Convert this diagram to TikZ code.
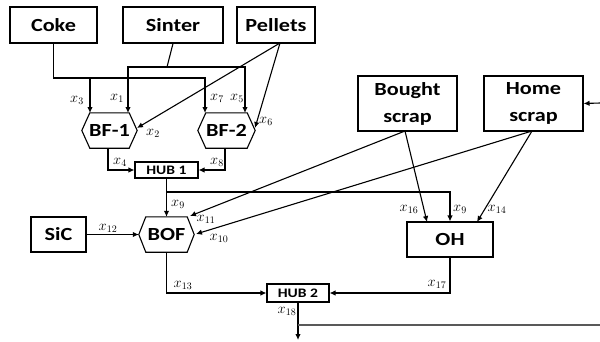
\documentclass[tikz,border=0pt]{standalone}
\usepackage{fontspec}
\newfontfamily\bx{Carlito}[FakeStretch=1.2]
\usetikzlibrary{arrows.meta,calc}
\begin{document}
\begin{tikzpicture}[x=1pt,y=-1pt,
  ln/.style={line width=1.1pt},
  arr/.style={ln,-{Latex[length=6pt,width=5.5pt]}},
  box/.style={draw,line width=1.1pt,font=\bx\bfseries\fontsize{18.5}{27}\selectfont,align=center,inner sep=0pt},
  hub/.style={draw,line width=1.1pt,font=\bx\bfseries\fontsize{13}{13}\selectfont,inner sep=0pt},
  hexn/.style={draw=none,font=\bx\bfseries\fontsize{18.5}{18.5}\selectfont,inner sep=0pt},
  lab/.style={font=\fontsize{14}{14}\selectfont,inner sep=0pt}]
\useasboundingbox (0,0) rectangle (600,341);
\newcommand\hexa[2]{\draw[ln] (#1.west) -- ([xshift=#2]#1.north west) -- ([xshift=-#2]#1.north east) -- (#1.east) -- ([xshift=-#2]#1.south east) -- ([xshift=#2]#1.south west) -- cycle;}
% boxes
\node[box,minimum width=87,minimum height=36] (coke) at (53.5,25) {Coke};
\node[box,minimum width=100,minimum height=36] (sinter) at (173,25) {Sinter};
\node[box,minimum width=78,minimum height=36] (pellets) at (276,25) {Pellets};
\node[box,minimum width=99,minimum height=55] (bought) at (407.5,103.5) {Bought\\scrap};
\node[box,minimum width=99,minimum height=55] (home) at (533.5,103.5) {Home\\scrap};
\node[box,minimum width=55,minimum height=35] (sic) at (58.5,234.5) {SiC};
\node[box,minimum width=86,minimum height=35] (oh) at (450,239.5) {OH};
\node[hub,minimum width=63,minimum height=16] (hub1) at (166.5,170) {HUB 1};
\node[hub,minimum width=62,minimum height=18] (hub2) at (298,293) {HUB 2};
% hexagons
\node[hexn,minimum width=55,minimum height=35] (bf1) at (109.5,130.5) {BF-1};
\node[hexn,minimum width=57,minimum height=35] (bf2) at (226.5,130.5) {BF-2};
\node[hexn,minimum width=55,minimum height=35] (bof) at (166.5,234.5) {BOF};
\hexa{bf1}{8}
\hexa{bf2}{8}
\hexa{bof}{7}
% coordinates
\coordinate (cokebus) at (205,78);
\coordinate (cokej) at (90,78);
\coordinate (bf1a) at (90,113);
\coordinate (bf2a) at (205,113);
\coordinate (sinj) at (167,67);
\coordinate (sinl) at (128,67);
\coordinate (sinr) at (245,67);
\coordinate (bf1b) at (128,113);
\coordinate (bf2b) at (245,113);
\coordinate (pelo) at (280,43);
\coordinate (bf1c) at (137,128);
\coordinate (bf2c) at (255,128);
\coordinate (bf1o) at (108,148);
\coordinate (bf2o) at (225,148);
\coordinate (h1j) at (167,192);
\coordinate (ohc) at (450,192);
\coordinate (bso) at (405,131);
\coordinate (hso) at (532,131);
\coordinate (ohb) at (427,222);
\coordinate (ohh) at (477,222);
\coordinate (bofb) at (190,216);
\coordinate (bofh) at (196,234);
\coordinate (h2j) at (298,325);
\coordinate (outr) at (600,325);
\coordinate (outd) at (298,340);
\coordinate (inr) at (600,103);
% connectors
\draw[arr] (coke.south) |- (cokebus) -- (bf2a);
\draw[arr] (cokej) -- (bf1a);
\draw[ln] (sinter.south) -- (sinj);
\draw[arr] (sinj) -- (sinl) -- (bf1b);
\draw[arr] (sinj) -- (sinr) -- (bf2b);
\draw[arr] (pelo) -- (bf1c);
\draw[arr] (pelo) -- (bf2c);
\draw[arr] (bf1o) |- (hub1.west);
\draw[arr] (bf2o) |- (hub1.east);
\draw[arr] (hub1.south) -- (bof.north);
\draw[arr] (h1j) -- (ohc) -- (oh.north);
\draw[arr] (sic.east) -- (bof.west);
\draw[arr] (bso) -- (ohb);
\draw[arr] (bso) -- (bofb);
\draw[arr] (hso) -- (ohh);
\draw[arr] (hso) -- (bofh);
\draw[arr] (bof.south) |- (hub2.west);
\draw[arr] (oh.south) |- (hub2.east);
\draw[arr] (hub2.south) -- (outd);
\draw[line width=2pt,gray!70!black] (h2j) -- (outr);
\draw[arr] (inr) -- (home.east);
% labels
\node[lab] at (77,100) {$x_{3}$};
\node[lab] at (117,98) {$x_{1}$};
\node[lab] at (217,98) {$x_{7}$};
\node[lab] at (237,98) {$x_{5}$};
\node[lab] at (266,121) {$x_{6}$};
\node[lab] at (153,133) {$x_{2}$};
\node[lab] at (120,162) {$x_{4}$};
\node[lab] at (217,162) {$x_{8}$};
\node[lab] at (178,204) {$x_{9}$};
\node[lab] at (206,219) {$x_{11}$};
\node[lab] at (219,238) {$x_{10}$};
\node[lab] at (108,228) {$x_{12}$};
\node[lab] at (183,285) {$x_{13}$};
\node[lab] at (409,209) {$x_{16}$};
\node[lab] at (460,209) {$x_{9}$};
\node[lab] at (497,209) {$x_{14}$};
\node[lab] at (437,284) {$x_{17}$};
\node[lab] at (287,311) {$x_{18}$};
\end{tikzpicture}
\end{document}
